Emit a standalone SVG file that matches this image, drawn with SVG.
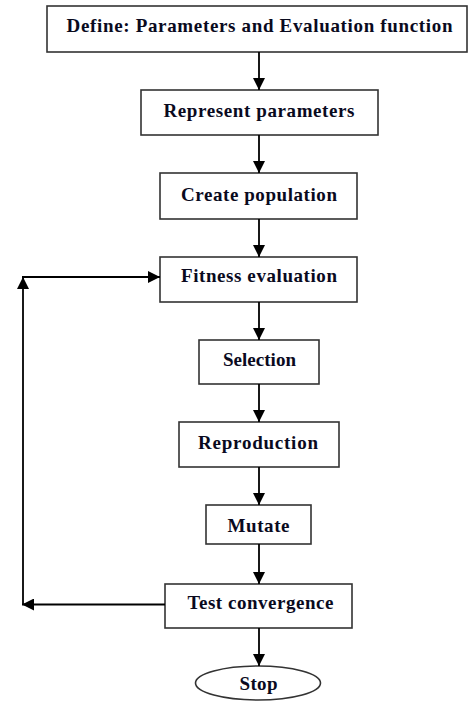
<svg xmlns="http://www.w3.org/2000/svg" width="468" height="701" viewBox="0 0 468 701">
  <style>
    .box { fill: #ffffff; stroke: #333333; stroke-width: 1.6; }
    .lbl { font-family: "Liberation Serif", "Times New Roman", serif; font-weight: bold; font-size: 19px; fill: #0a0a1e; text-anchor: middle; }
    .conn { fill: none; stroke: #000000; stroke-width: 1.8; }
  </style>
  <defs>
    <marker id="ah" markerUnits="userSpaceOnUse" markerWidth="12" markerHeight="12" refX="12" refY="6" orient="auto">
      <path d="M0,0 L12,6 L0,12 Z" fill="#000000"/>
    </marker>
  </defs>
  <rect width="468" height="701" fill="#ffffff"/>

  <g id="n1">
    <rect class="box" x="47" y="6" width="420" height="46"/>
    <text class="lbl" x="259.5" y="32" textLength="386" lengthAdjust="spacing">Define: Parameters and Evaluation function</text>
  </g>
  <g id="n2">
    <rect class="box" x="141" y="90" width="237" height="45"/>
    <text class="lbl" x="259" y="117" textLength="191" lengthAdjust="spacing">Represent parameters</text>
  </g>
  <g id="n3">
    <rect class="box" x="160" y="173" width="197" height="46"/>
    <text class="lbl" x="259" y="201" textLength="156" lengthAdjust="spacing">Create population</text>
  </g>
  <g id="n4">
    <rect class="box" x="160" y="257" width="197" height="45"/>
    <text class="lbl" x="259" y="282" textLength="156" lengthAdjust="spacing">Fitness evaluation</text>
  </g>
  <g id="n5">
    <rect class="box" x="199" y="340" width="120" height="44"/>
    <text class="lbl" x="259.5" y="366" textLength="73" lengthAdjust="spacing">Selection</text>
  </g>
  <g id="n6">
    <rect class="box" x="179" y="422" width="160" height="45"/>
    <text class="lbl" x="258" y="449" textLength="120" lengthAdjust="spacing">Reproduction</text>
  </g>
  <g id="n7">
    <rect class="box" x="206" y="505" width="105" height="39"/>
    <text class="lbl" x="258.5" y="531.5" textLength="62" lengthAdjust="spacing">Mutate</text>
  </g>
  <g id="n8">
    <rect class="box" x="165" y="584" width="187" height="44"/>
    <text class="lbl" x="260.5" y="608.5" textLength="146" lengthAdjust="spacing">Test convergence</text>
  </g>
  <g id="n9">
    <ellipse class="box" cx="258" cy="683" rx="62.5" ry="17"/>
    <text class="lbl" x="258.5" y="690" textLength="38" lengthAdjust="spacing">Stop</text>
  </g>

  <g id="connectors">
    <line class="conn" x1="259" y1="52" x2="259" y2="90" marker-end="url(#ah)"/>
    <line class="conn" x1="259" y1="135" x2="259" y2="173" marker-end="url(#ah)"/>
    <line class="conn" x1="259" y1="219" x2="259" y2="257" marker-end="url(#ah)"/>
    <line class="conn" x1="259" y1="302" x2="259" y2="340" marker-end="url(#ah)"/>
    <line class="conn" x1="259" y1="384" x2="259" y2="422" marker-end="url(#ah)"/>
    <line class="conn" x1="259" y1="467" x2="259" y2="505" marker-end="url(#ah)"/>
    <line class="conn" x1="259" y1="544" x2="259" y2="584" marker-end="url(#ah)"/>
    <line class="conn" x1="259" y1="628" x2="259" y2="666" marker-end="url(#ah)"/>
    <line class="conn" x1="165" y1="604.5" x2="22" y2="604.5" marker-end="url(#ah)"/>
    <line class="conn" x1="23" y1="604.5" x2="23" y2="277" marker-end="url(#ah)"/>
    <line class="conn" x1="22" y1="277" x2="160" y2="277" marker-end="url(#ah)"/>
  </g>
</svg>
